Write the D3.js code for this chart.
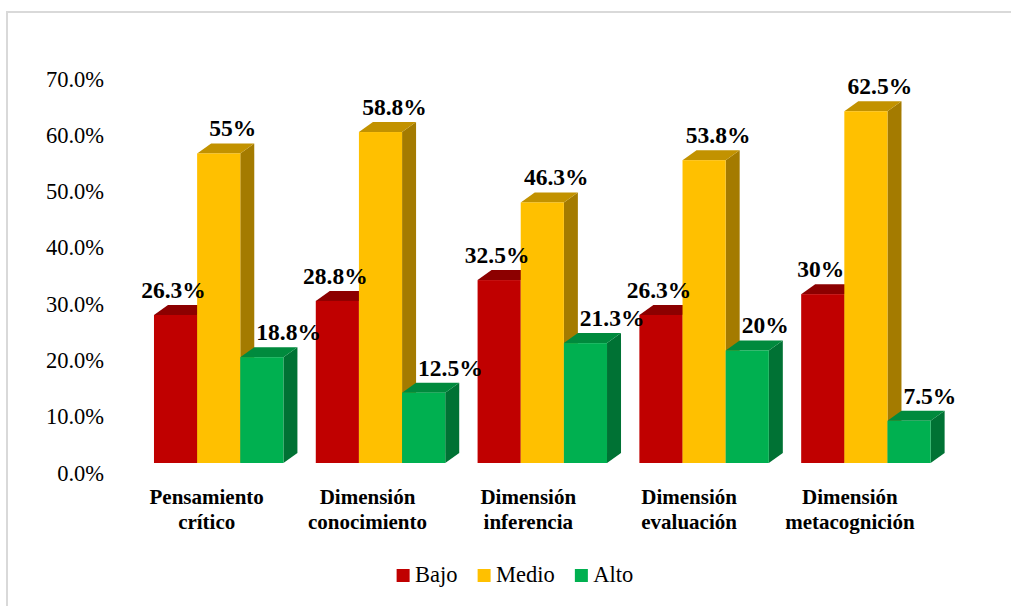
<!DOCTYPE html>
<html>
<head>
<meta charset="utf-8">
<script src="https://cdn.jsdelivr.net/npm/d3@7"></script>
</head>
<body style="margin:0">
<svg id="plot" width="1011" height="606"></svg>
<script>
// Niveles por dimensión (%)
const categories = [
  ["Pensamiento", "crítico"],
  ["Dimensión", "conocimiento"],
  ["Dimensión", "inferencia"],
  ["Dimensión", "evaluación"],
  ["Dimensión", "metacognición"]
];
const seriesNames = ["Bajo", "Medio", "Alto"];
const bajo  = [26.3, 28.8, 32.5, 26.3, 30];
const medio = [55, 58.8, 46.3, 53.8, 62.5];
const alto  = [18.8, 12.5, 21.3, 20, 7.5];
const yTicks = [0, 10, 20, 30, 40, 50, 60, 70];

const seriesValues = [bajo, medio, alto];

// face colours: front, top, side
const palette = [
  { front: "#C00000", top: "#8C0000", side: "#7A0000" },
  { front: "#FFC000", top: "#C29200", side: "#A47B00" },
  { front: "#00B050", top: "#008A3D", side: "#007234" }
];

const fontStyle = (size, bold) =>
  `font-family:'Liberation Serif';font-size:${size}px;font-weight:${bold ? "bold" : "normal"}`;

const svg = d3.select("#plot");

// outer frame
svg.append("path")
  .attr("d", "M7,606 V12 H1011")
  .attr("fill", "none")
  .attr("stroke", "#D9D9D9")
  .attr("stroke-width", 2);

const y = d3.scaleLinear().domain([0, 70]).range([463, 69]);
const x0 = d3.scaleBand()
  .domain(d3.range(categories.length))
  .range([137.8, 946.8])
  .paddingInner(0.2)
  .paddingOuter(0.1);
const x1 = d3.scaleBand()
  .domain(d3.range(seriesNames.length))
  .range([0, x0.bandwidth()]);

const depthX = 14, depthY = 10;

// value axis (labels only)
const yAxis = d3.axisLeft(y)
  .tickValues(yTicks)
  .tickSize(0)
  .tickPadding(8)
  .tickFormat(v => d3.format(".1f")(v) + "%");

const axisG = svg.append("g")
  .attr("transform", "translate(112,9.8)")
  .call(yAxis)
  .attr("font-family", "Liberation Serif")
  .attr("font-size", 22.5);
axisG.select(".domain").remove();
axisG.selectAll("text")
  .attr("style", fontStyle(22.5, false))
  .attr("fill", "#000");

// 3D bars: side, top, then front face
const bars = svg.append("g");
categories.forEach((cat, ci) => {
  seriesValues.forEach((vals, si) => {
    const v = vals[ci];
    const xl = x0(ci) + x1(si);
    const w = x1.bandwidth();
    const yt = y(v), yb = y(0);
    const c = palette[si];
    const g = bars.append("g");
    g.append("path")
      .attr("d", `M${xl + w},${yt} L${xl + w + depthX},${yt - depthY} L${xl + w + depthX},${yb - depthY} L${xl + w},${yb} Z`)
      .attr("fill", c.side);
    g.append("path")
      .attr("d", `M${xl},${yt} L${xl + depthX},${yt - depthY} L${xl + w + depthX},${yt - depthY} L${xl + w},${yt} Z`)
      .attr("fill", c.top);
    g.append("rect")
      .attr("x", xl)
      .attr("y", yt)
      .attr("width", w)
      .attr("height", yb - yt)
      .attr("fill", c.front);
  });
});

// value labels
const labelPlacement = [
  { anchor: "middle", dx: w => w / 2 - 2 },
  { anchor: "middle", dx: w => w / 2 + 14 },
  { anchor: "start",  dx: w => 16 }
];
const labels = svg.append("g");
categories.forEach((cat, ci) => {
  seriesValues.forEach((vals, si) => {
    const v = vals[ci];
    const w = x1.bandwidth();
    const p = labelPlacement[si];
    labels.append("text")
      .attr("x", x0(ci) + x1(si) + p.dx(w))
      .attr("y", y(v) - 17)
      .attr("text-anchor", p.anchor)
      .attr("style", fontStyle(23.5, true))
      .attr("fill", "#000")
      .text(v + "%");
  });
});

// category labels
const catG = svg.append("g");
categories.forEach((lines, ci) => {
  const t = catG.append("text")
    .attr("text-anchor", "middle")
    .attr("style", fontStyle(21, true))
    .attr("fill", "#000");
  lines.forEach((ln, li) => {
    t.append("tspan")
      .attr("x", x0(ci) + x0.bandwidth() / 2 - 12 - ci)
      .attr("y", y(0) + 41 + li * 24.5)
      .text(ln);
  });
});

// legend, laid out from measured text widths
const legend = svg.append("g");
let lx = 0;
seriesNames.forEach((name, si) => {
  legend.append("rect")
    .attr("x", lx).attr("y", -12.5)
    .attr("width", 13).attr("height", 13)
    .attr("fill", palette[si].front);
  const t = legend.append("text")
    .attr("x", lx + 18.5).attr("y", 0)
    .attr("style", fontStyle(22.5, false))
    .attr("fill", "#000")
    .text(name);
  lx += 18.5 + t.node().getComputedTextLength() + 20;
});
const legendW = lx - 20;
legend.attr("transform", `translate(${515 - legendW / 2},581.5)`);
</script>
</body>
</html>
